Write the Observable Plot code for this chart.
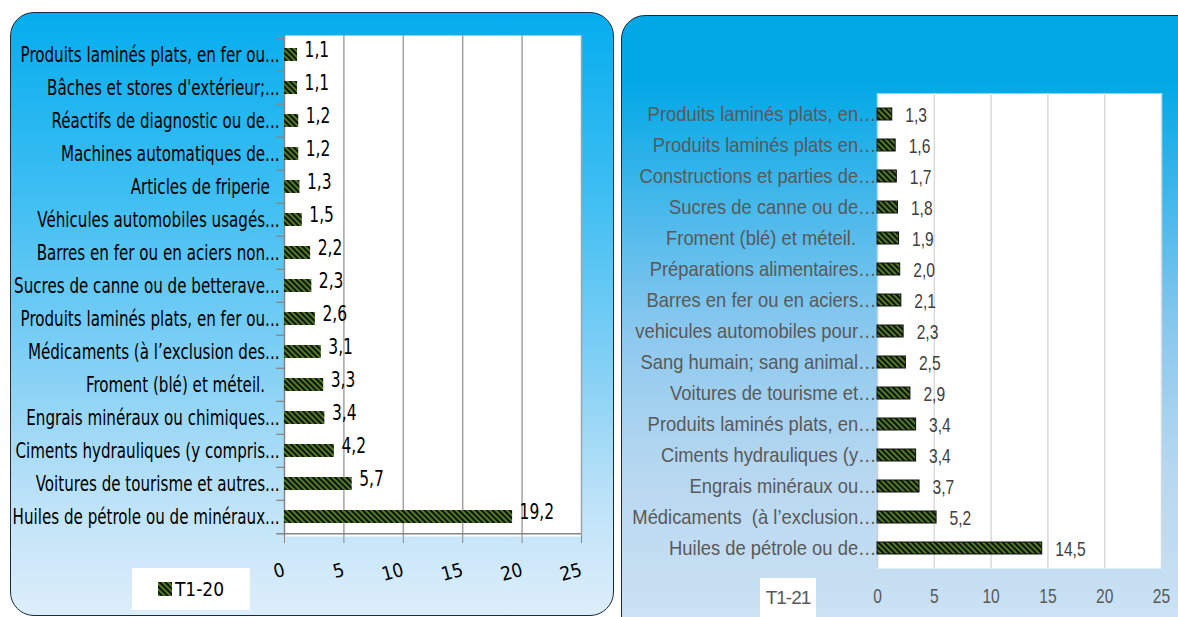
<!DOCTYPE html>
<html><head><meta charset="utf-8">
<script src="https://cdn.jsdelivr.net/npm/d3@7"></script>
<script src="https://cdn.jsdelivr.net/npm/@observablehq/plot@0.6"></script>
<style>
html,body{margin:0;padding:0;background:#fff;}
body{width:1178px;height:617px;overflow:hidden;position:relative;}
.panel{position:absolute;border:1.5px solid #1b2b38;border-radius:24px;box-sizing:border-box;}
#p1{left:10px;top:12px;width:604px;height:604px;background:linear-gradient(#05adee 0%,#3dbef2 30%,#86d1f5 60%,#bfe3f8 82%,#ddeefb 100%);}
#p2{left:621px;top:15px;width:620px;height:630px;background:linear-gradient(#00a8e6 0%,#00a8e6 10%,#3fb6ea 28%,#8ac8ee 50%,#b6d7f0 72%,#cfe3f4 100%);}
.chart{position:absolute;}
#c1{left:10px;top:12px;}
#c2{left:621px;top:15px;}
.legend{position:absolute;background:#fff;display:flex;align-items:center;justify-content:center;}
#l1{left:132px;top:568px;width:118px;height:42px;font-family:"DejaVu Sans Condensed","DejaVu Sans",sans-serif;font-stretch:condensed;font-size:19px;color:#000;}
#l2{left:760px;top:578px;width:56px;height:39px;font-family:"Liberation Sans",Arial,sans-serif;font-size:19px;color:#595959;letter-spacing:-1px;}
</style></head>
<body>
<div class="panel" id="p1"></div>
<div class="panel" id="p2"></div>
<div class="chart" id="c1"></div>
<div class="chart" id="c2"></div>
<div class="legend" id="l1"><svg width="14" height="14" style="margin-right:3px"><defs><pattern id="lg1" patternUnits="userSpaceOnUse" width="4" height="4" patternTransform="rotate(-45)"><rect width="4" height="4" fill="#4e7d24"/><rect width="2" height="4" fill="#111"/></pattern></defs><rect width="14" height="14" fill="url(#lg1)"/></svg><span>T1-20</span></div>
<div class="legend" id="l2"><span>T1-21</span></div>
<script>
// ---- data ----
const categories20 = [
  "Produits laminés plats, en fer ou...",
  "Bâches et stores d'extérieur;...",
  "Réactifs de diagnostic ou de...",
  "Machines automatiques de...",
  "Articles de friperie\u00a0\u00a0",
  "Véhicules automobiles usagés...",
  "Barres en fer ou en aciers non...",
  "Sucres de canne ou de betterave...",
  "Produits laminés plats, en fer ou...",
  "Médicaments (à l’exclusion des...",
  "Froment (blé) et méteil.\u00a0\u00a0\u00a0",
  "Engrais minéraux ou chimiques...",
  "Ciments hydrauliques (y compris...",
  "Voitures de tourisme et autres...",
  "Huiles de pétrole ou de minéraux..."
];
const values20 = [1.1, 1.1, 1.2, 1.2, 1.3, 1.5, 2.2, 2.3, 2.6, 3.1, 3.3, 3.4, 4.2, 5.7, 19.2];

const categories21 = [
  "Produits laminés plats, en…",
  "Produits laminés plats en…",
  "Constructions et parties de…",
  "Sucres de canne ou de…",
  "Froment (blé) et méteil.\u00a0\u00a0\u00a0\u00a0",
  "Préparations alimentaires…",
  "Barres en fer ou en aciers…",
  "vehicules automobiles pour…",
  "Sang humain; sang animal…",
  "Voitures de tourisme et…",
  "Produits laminés plats, en…",
  "Ciments hydrauliques (y…",
  "Engrais minéraux ou…",
  "Médicaments  (à l’exclusion…",
  "Huiles de pétrole ou de…"
];
const values21 = [1.3, 1.6, 1.7, 1.8, 1.9, 2.0, 2.1, 2.3, 2.5, 2.9, 3.4, 3.4, 3.7, 5.2, 14.5];

const xTicks = [0, 5, 10, 15, 20, 25];
const series = ["T1-20", "T1-21"];

// ---- helpers ----
const fmt = v => v.toFixed(1).replace(".", ",");
const condensed = '"DejaVu Sans Condensed","DejaVu Sans",sans-serif';
const arial = '"Liberation Sans",Arial,sans-serif';
function stripes(id, w) {
  return () => {
    const defs = d3.create("svg:defs");
    const p = defs.append("pattern").attr("id", id).attr("patternUnits", "userSpaceOnUse")
      .attr("width", w).attr("height", w).attr("patternTransform", "rotate(-45)");
    p.append("rect").attr("width", w).attr("height", w).attr("fill", "#4e7d24");
    p.append("rect").attr("width", w / 2).attr("height", w).attr("fill", "#111");
    return defs.node();
  };
}
// narrow the glyphs of a group of texts horizontally about their anchor (source fonts are condensed faces)
function squeeze(svg, label, k) {
  svg.querySelectorAll(`g[aria-label="${label}"] text`).forEach(t => {
    const x = +t.getAttribute("x") || 0, y = +t.getAttribute("y") || 0;
    const tr = t.getAttribute("transform") || "";
    t.setAttribute("transform", `${tr} translate(${x},${y}) scale(${k.toFixed(4)},1) translate(${-x},${-y})`);
  });
}
function squeezeTo(svg, label, refText, target) {
  const texts = [...svg.querySelectorAll(`g[aria-label="${label}"] text`)];
  const ref = texts.find(t => t.textContent === refText);
  squeeze(svg, label, target / ref.getComputedTextLength());
}

const data20 = values20.map((v, i) => ({i, v}));
const data21 = values21.map((v, i) => ({i, v}));

// ---- left chart ----
{
  const W = 603, H = 603, mt = 23, mb = 79;
  const step = (H - mt - mb) / categories20.length;
  const chart = Plot.plot({
    width: W, height: H, marginLeft: 274, marginRight: 32, marginTop: mt, marginBottom: mb,
    style: {background: "transparent", fontFamily: condensed, color: "#000", overflow: "visible"},
    x: {domain: [0, 25]},
    y: {domain: d3.range(categories20.length), paddingInner: 0.62, paddingOuter: 0.31},
    marks: [
      stripes("st20", 4),
      Plot.frame({fill: "#fff", stroke: null}),
      Plot.ruleX(xTicks.slice(1), {stroke: "#a3a3a3", strokeWidth: 1.5}),
      Plot.ruleX([0], {stroke: "#868686", strokeWidth: 1.5}),
      Plot.ruleY(d3.range(categories20.length), {x1: -0.65, x2: 0, dy: -step / 2, stroke: "#868686", strokeWidth: 1.3}),
      Plot.ruleY([categories20.length - 1], {x1: -0.65, x2: 25, dy: step / 2, stroke: "#868686", strokeWidth: 1.5}),
      Plot.axisX({ticks: xTicks, tickSize: 7, tickRotate: -15, tickPadding: 26, fontSize: 19, stroke: "#868686", label: null}),
      Plot.axisY({tickSize: 0, tickPadding: 5, fontSize: 21, tickFormat: i => categories20[i], label: null}),
      Plot.barX(data20, {x: "v", y: "i", fill: "url(#st20)"}),
      Plot.text(data20, {x: "v", y: "i", text: d => fmt(d.v), textAnchor: "start", dx: 7, dy: -5, fontSize: 21, fill: "#000"})
    ]
  });
  document.getElementById("c1").append(chart);
  squeezeTo(chart, "y-axis tick label", categories20[0], 259);
  squeeze(chart, "text", 0.82);
}

// ---- right chart ----
{
  const W = 557, H = 602, mt = 78, mb = 49;
  const chart = Plot.plot({
    width: W, height: H, marginLeft: 256, marginRight: 17, marginTop: mt, marginBottom: mb,
    style: {background: "transparent", fontFamily: arial, color: "#595959", overflow: "visible"},
    x: {domain: [0, 25]},
    y: {domain: d3.range(categories21.length), paddingInner: 0.62, paddingOuter: 0.31},
    marks: [
      stripes("st21", 4),
      Plot.frame({fill: "#fff", stroke: null}),
      Plot.ruleX(xTicks.slice(1), {stroke: "#d9d9d9", strokeWidth: 1.5}),
      Plot.ruleX([0], {stroke: "#d0d0d0", strokeWidth: 1.5}),
      Plot.axisX({ticks: xTicks, tickSize: 0, tickPadding: 20, fontSize: 20, label: null}),
      Plot.axisY({tickSize: 0, tickPadding: 1, fontSize: 20, tickFormat: i => categories21[i], label: null}),
      Plot.barX(data21, {x: "v", y: "i", fill: "url(#st21)", stroke: "#111", strokeWidth: 1}),
      Plot.text(data21, {x: "v", y: "i", text: d => fmt(d.v), textAnchor: "start", dx: 13, dy: 1, fontSize: 20, fill: "#404040"})
    ]
  });
  document.getElementById("c2").append(chart);
  squeezeTo(chart, "y-axis tick label", categories21[0], 229);
  squeeze(chart, "x-axis tick label", 0.78);
  squeeze(chart, "text", 0.78);
}
</script>
</body></html>
